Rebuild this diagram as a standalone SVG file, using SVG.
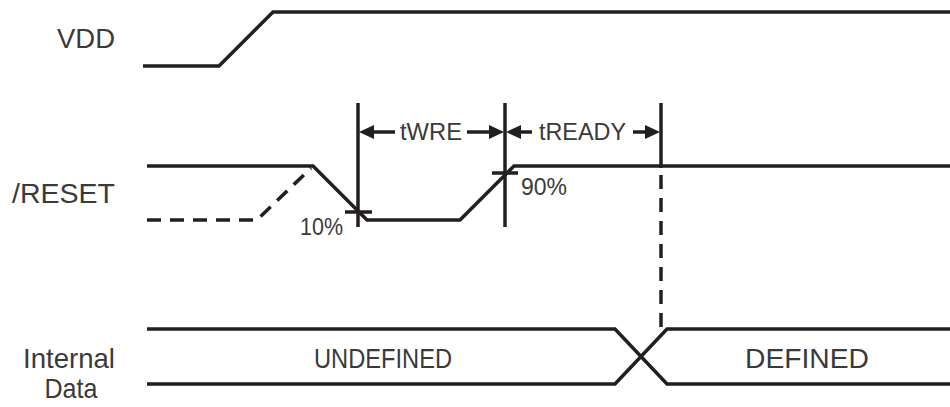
<svg xmlns="http://www.w3.org/2000/svg" width="950" height="407" viewBox="0 0 950 407">
<style>
.w{fill:none;stroke:#231f20;stroke-width:3.5;stroke-linejoin:miter}
.d{fill:none;stroke:#231f20;stroke-width:3.5;stroke-dasharray:14 9}
.t{font-family:"Liberation Sans",Arial,sans-serif;fill:#3a3a3a}
.big{font-size:28.5px}
.sm{font-size:23px}
.ah{fill:#231f20}
</style>
<rect width="950" height="407" fill="#fff"/>
<g id="labels">
<text class="t big" x="115" y="48" text-anchor="end" textLength="58" lengthAdjust="spacingAndGlyphs">VDD</text>
<text class="t big" x="115" y="203" text-anchor="end" textLength="103" lengthAdjust="spacingAndGlyphs">/RESET</text>
<text class="t big" x="69" y="368" text-anchor="middle" textLength="92" lengthAdjust="spacingAndGlyphs">Internal</text>
<text class="t big" x="71" y="398" text-anchor="middle" textLength="53" lengthAdjust="spacingAndGlyphs">Data</text>
</g>
<g id="vdd">
<polyline class="w" points="143,66 219,66 273,12 950,12"/>
</g>
<g id="reset">
<polyline class="w" points="147,166 313,166 367,220 460,220 514,166 950,166"/>
<polyline class="d" points="147,220 257,220 311,168"/>
<line class="w" x1="345" y1="212" x2="372" y2="212"/>
<line class="w" x1="492" y1="173" x2="518" y2="173"/>
<text class="t sm" x="300" y="235" textLength="43" lengthAdjust="spacingAndGlyphs">10%</text>
<text class="t sm" x="521" y="195" textLength="46" lengthAdjust="spacingAndGlyphs">90%</text>
</g>
<g id="internal-data">
<polyline class="w" points="147,329 615,329 667,384 950,384"/>
<polyline class="w" points="147,384 615,384 667,329 950,329"/>
<text class="t big" x="383" y="368" text-anchor="middle" textLength="138" lengthAdjust="spacingAndGlyphs">UNDEFINED</text>
<text class="t big" x="807" y="368" text-anchor="middle" textLength="124" lengthAdjust="spacingAndGlyphs">DEFINED</text>
</g>
<g id="connectors">
<line class="w" x1="358" y1="103" x2="358" y2="227"/>
<line class="w" x1="505" y1="103" x2="505" y2="227"/>
<line class="w" x1="661" y1="103" x2="661" y2="168"/>
<line class="d" x1="661" y1="175" x2="661" y2="336"/>
<line class="w" x1="370" y1="132" x2="395" y2="132"/>
<line class="w" x1="467" y1="132" x2="492" y2="132"/>
<polygon class="ah" points="359,132 374,125 374,139"/>
<polygon class="ah" points="504,132 489,125 489,139"/>
<line class="w" x1="518" y1="132" x2="532" y2="132"/>
<line class="w" x1="633" y1="132" x2="648" y2="132"/>
<polygon class="ah" points="506,132 521,125 521,139"/>
<polygon class="ah" points="660,132 645,125 645,139"/>
<text class="t sm" x="400" y="140" textLength="62" lengthAdjust="spacingAndGlyphs">tWRE</text>
<text class="t sm" x="539" y="140" textLength="87" lengthAdjust="spacingAndGlyphs">tREADY</text>
</g>
</svg>
